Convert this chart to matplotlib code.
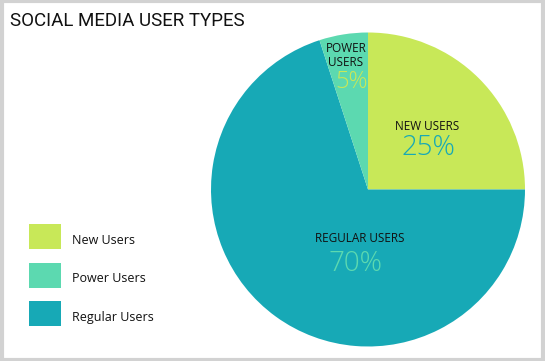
import matplotlib.pyplot as plt
from matplotlib.patches import Rectangle

# data (clockwise from 12 o'clock)
labels = ['New Users', 'Regular Users', 'Power Users']
values = [25, 70, 5]
colors = ['#c8e858', '#17a9b6', '#5cd9b0']

legend_order = ['New Users', 'Power Users', 'Regular Users']

W, H = 545, 361
fig = plt.figure(figsize=(W / 100, H / 100), dpi=100)
fig.patch.set_facecolor('white')

# grey frame round the figure
fig.patches.append(Rectangle((0.003, 0.004), 0.994, 0.992, transform=fig.transFigure,
                             fill=False, edgecolor='#d2d2d2', linewidth=3))

# pie axes: centre (368, 189.5) px, radius 157 px
cx, cy, r = 368, 189.5, 157
ax = fig.add_axes([(cx - r) / W, (H - cy - r) / H, 2 * r / W, 2 * r / H])
ax.pie(values, colors=colors, startangle=90, counterclock=False,
       wedgeprops=dict(linewidth=0))
ax.set_xlim(-1, 1)
ax.set_ylim(-1, 1)
ax.axis('off')

def px(x, y):
    return x / W, 1 - y / H

lab_font = ['Open Sans', 'DejaVu Sans']
pct_font = ['Open Sans', 'DejaVu Sans']

# slice labels
fig.text(*px(346, 55), 'POWER\nUSERS', ha='center', va='center', fontsize=8.5,
         family=lab_font, color='#111111', linespacing=1.1)
fig.text(*px(352, 82), '5%', ha='center', va='center', fontsize=17,
         family=pct_font, color=colors[0], fontweight='light')

fig.text(*px(427, 126), 'NEW USERS', ha='center', va='center', fontsize=8.5,
         family=lab_font, color='#111111')
fig.text(*px(428, 148), '25%', ha='center', va='center', fontsize=20,
         family=pct_font, color=colors[1], fontweight='light')

fig.text(*px(360, 239), 'REGULAR USERS', ha='center', va='center', fontsize=8.5,
         family=lab_font, color='#111111')
fig.text(*px(355, 264), '70%', ha='center', va='center', fontsize=20,
         family=pct_font, color=colors[2], fontweight='light')

# title
fig.text(*px(10, 21), 'SOCIAL MEDIA USER TYPES', ha='left', va='center', fontsize=13.5,
         family=['Roboto', 'DejaVu Sans'], color='#111111')

# legend boxes
col_of = dict(zip(labels, colors))
for i, name in enumerate(legend_order):
    y = 224 + i * 38.5
    fig.patches.append(Rectangle(px(29, y + 25), 32 / W, 25 / H, transform=fig.transFigure,
                                 facecolor=col_of[name], edgecolor='none'))
    fig.text(*px(72, y + 16), name, ha='left', va='center', fontsize=9,
             family=lab_font, color='#111111')

fig.savefig('out.png', dpi=100)
